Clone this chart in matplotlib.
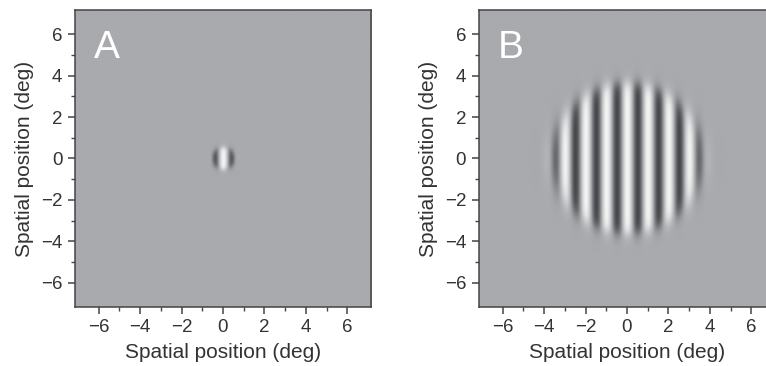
import numpy as np
import matplotlib.pyplot as plt
from matplotlib.colors import LinearSegmentedColormap

# stimulus parameters for the two panels
panel_labels = ["A", "B"]
aperture_radius = [0.52, 3.6]     # deg
edge_width = [0.07, 0.18]         # deg, softness of the aperture edge
spatial_freq = [1.15, 1.0]        # cycles/deg
contrast = [1.0, 1.0]
extent = 7.15                      # half-width of the display (deg)
ticks_major = [-6, -4, -2, 0, 2, 4, 6]
ticks_minor = [-5, -3, -1, 1, 3, 5]

plt.rcParams['font.family'] = ['Liberation Sans', 'DejaVu Sans']
txt_col = "#333333"

# odd N so the zero level sits in the middle of one colour bin
cmap = LinearSegmentedColormap.from_list(
    "stim", ["#46474b", "#a9aaae", "#f4f4f4"], N=511)

x = np.linspace(-extent, extent, 900)
xx, yy = np.meshgrid(x, x)
rr = np.sqrt(xx**2 + yy**2)

fig = plt.figure(figsize=(7.66, 3.66), dpi=100)
positions = [[0.0966, 0.162, 0.389, 0.81],
             [0.624, 0.162, 0.389, 0.81]]

for i in range(2):
    ax = fig.add_axes(positions[i])
    env = 1.0 / (1.0 + np.exp((rr - aperture_radius[i]) / edge_width[i]))
    img = contrast[i] * env * np.cos(2 * np.pi * spatial_freq[i] * xx)
    ax.imshow(img, cmap=cmap, vmin=-1, vmax=1, origin="lower",
              extent=[-extent, extent, -extent, extent],
              interpolation="bilinear")
    ax.set_xlim(-extent, extent)
    ax.set_ylim(-extent, extent)
    ax.set_xticks(ticks_major)
    ax.set_yticks(ticks_major)
    ax.set_xticks(ticks_minor, minor=True)
    ax.set_yticks(ticks_minor, minor=True)
    ax.set_xticklabels([str(t).replace("-", "\u2212") for t in ticks_major])
    ax.set_yticklabels([str(t).replace("-", "\u2212") for t in ticks_major])
    ax.tick_params(which="major", direction="out", length=5, width=1.1,
                   color="#444444", labelsize=13.5, labelcolor=txt_col, pad=4)
    ax.tick_params(which="minor", direction="out", length=2.6, width=1.0,
                   color="#444444")
    for s in ax.spines.values():
        s.set_color("#444444")
        s.set_linewidth(1.1)
    ax.set_xlabel("Spatial position (deg)", fontsize=15, color=txt_col,
                  labelpad=5)
    ax.set_ylabel("Spatial position (deg)", fontsize=15, color=txt_col,
                  labelpad=5)
    ax.text(0.065, 0.935, panel_labels[i], transform=ax.transAxes,
            color="white", fontsize=28, ha="left", va="top")

fig.savefig("out.png", dpi=100)
